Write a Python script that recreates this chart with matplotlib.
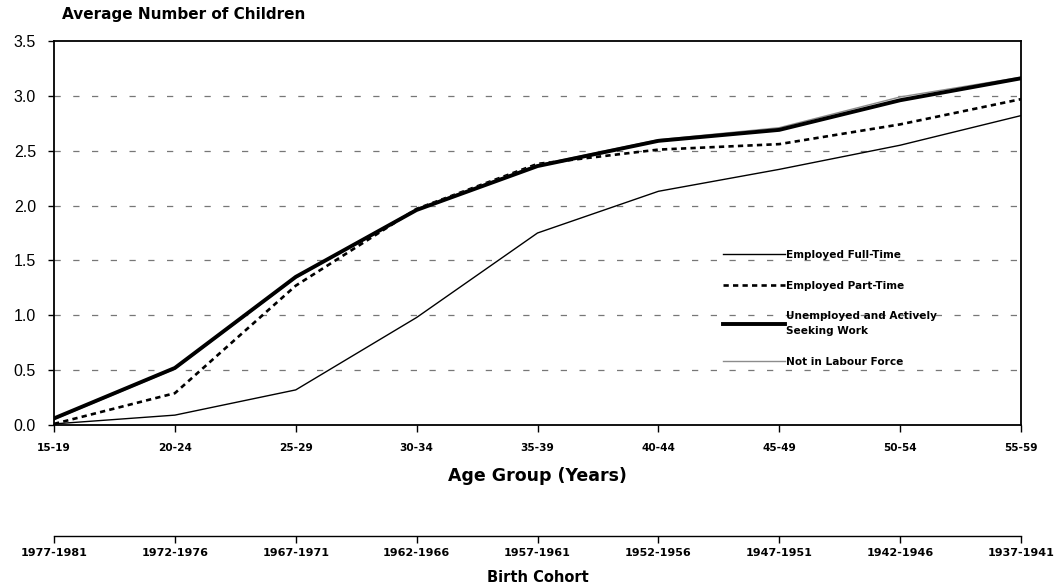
#! /usr/bin/env python3

'''Average number of children by age group and labour force status.'''

import matplotlib
matplotlib.use('Agg')
import matplotlib.pyplot as plt

age_groups = ['15-19', '20-24', '25-29', '30-34', '35-39',
              '40-44', '45-49', '50-54', '55-59']
birth_cohorts = ['1977-1981', '1972-1976', '1967-1971', '1962-1966', '1957-1961',
                 '1952-1956', '1947-1951', '1942-1946', '1937-1941']

full_time = [0.01, 0.09, 0.32, 0.98, 1.75, 2.13, 2.33, 2.55, 2.82]
part_time = [0.01, 0.29, 1.27, 1.97, 2.38, 2.51, 2.56, 2.74, 2.97]
unemployed = [0.06, 0.52, 1.35, 1.96, 2.36, 2.59, 2.69, 2.96, 3.16]
not_in_lf = [0.05, 0.51, 1.34, 1.97, 2.37, 2.60, 2.71, 2.99, 3.17]

yticks = [0.0, 0.5, 1.0, 1.5, 2.0, 2.5, 3.0, 3.5]

plt.rcParams['font.family'] = ['Liberation Sans', 'DejaVu Sans']
wide = ['DejaVu Sans']

W, H = 1054, 588
fig = plt.figure(figsize=(W / 100, H / 100), dpi=100)

left, right, top, bottom = 54 / W, 1021 / W, 41 / H, 425 / H
ax = fig.add_axes([left, 1 - bottom, right - left, bottom - top])

x = list(range(len(age_groups)))
ax.plot(x, full_time, color='black', lw=1.0, label='Employed Full-Time')
ax.plot(x, part_time, color='black', lw=1.9, linestyle=(0, (2.0, 1.6)),
        label='Employed Part-Time')
ax.plot(x, not_in_lf, color='#8c8c8c', lw=1.0, zorder=2,
        label='Not in Labour Force')
ax.plot(x, unemployed, color='black', lw=2.8, zorder=3,
        label='Unemployed and Actively\nSeeking Work')

ax.set_xlim(0, len(age_groups) - 1)
ax.set_ylim(0, 3.5)
ax.set_xticks(x)
ax.set_xticklabels(age_groups, fontsize=7.6, fontweight='bold', family=wide)
ax.set_yticks(yticks)
ax.set_yticklabels(['%.1f' % v for v in yticks], fontsize=11.5)
ax.tick_params(axis='x', direction='out', length=5, width=1, pad=8)
ax.tick_params(axis='y', direction='out', length=4, width=1, pad=9)
for s in ax.spines.values():
    s.set_linewidth(1.3)

for v in yticks[1:-1]:
    ax.axhline(v, color='#777777', lw=0.9, linestyle=(0, (5, 10)), zorder=0)

ax.set_xlabel('Age Group (Years)', fontsize=12.5, fontweight='bold',
              family=wide, labelpad=10)
fig.text(62 / W, 1 - 15 / H, 'Average Number of Children', fontsize=11,
         fontweight='bold', family=wide, ha='left', va='center')

# legend entries in the usual order, unemployed before not in labour force
handles, labels = ax.get_legend_handles_labels()
order = [0, 1, 3, 2]
leg = ax.legend([handles[i] for i in order], [labels[i] for i in order],
                loc='upper left', bbox_to_anchor=(723 / W, 1 - 250 / H),
                bbox_transform=fig.transFigure, frameon=False, borderpad=0,
                borderaxespad=0, handlelength=5.9, handletextpad=0.1,
                labelspacing=1.95,
                prop={'family': wide, 'weight': 'bold', 'size': 7.6})
for t in leg.get_texts():
    t.set_linespacing(1.6)

# second axis for birth cohorts
ax2 = fig.add_axes([left, 1 - 536 / H, right - left, 0.0001])
ax2.set_xlim(0, len(birth_cohorts) - 1)
ax2.set_xticks(x)
ax2.set_xticklabels(birth_cohorts, fontsize=8, fontweight='bold', family=wide)
ax2.set_yticks([])
for side in ['top', 'left', 'right']:
    ax2.spines[side].set_visible(False)
ax2.spines['bottom'].set_linewidth(1.0)
ax2.tick_params(axis='x', direction='out', length=5, width=1, pad=4)
ax2.set_xlabel('Birth Cohort', fontsize=10.5, fontweight='bold', family=wide,
               labelpad=8)

fig.savefig('out.png', dpi=100)
